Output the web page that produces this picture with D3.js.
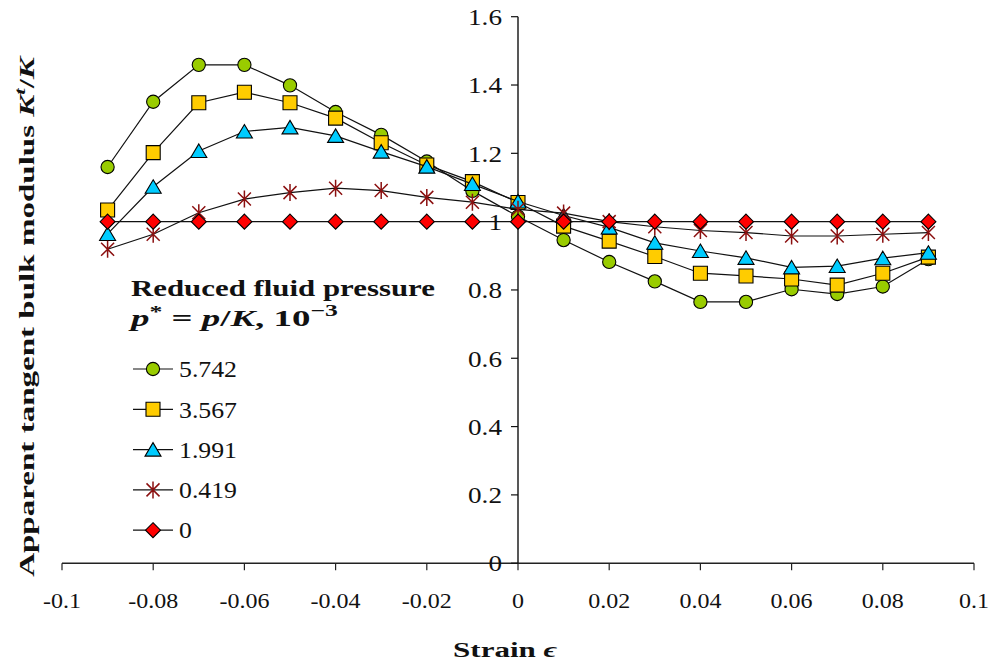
<!DOCTYPE html>
<html><head><meta charset="utf-8">
<script src="https://cdn.jsdelivr.net/npm/d3@7"></script>
<style>
html,body{margin:0;padding:0;background:#fff;}
svg text{font-family:'Liberation Serif','DejaVu Serif',serif;fill:#111;}
</style></head>
<body>
<svg id="chart" width="993" height="668" font-family="'Liberation Serif','DejaVu Serif',serif"></svg>
<script>
const strain = [-0.09,-0.08,-0.07,-0.06,-0.05,-0.04,-0.03,-0.02,-0.01,0,0.01,0.02,0.03,0.04,0.05,0.06,0.07,0.08,0.09];
const p5742 = [1.160,1.351,1.459,1.459,1.399,1.321,1.254,1.176,1.090,1.015,0.946,0.882,0.825,0.765,0.765,0.802,0.788,0.810,0.890];
const p3567 = [1.034,1.202,1.348,1.379,1.348,1.303,1.231,1.166,1.117,1.056,0.987,0.943,0.898,0.849,0.841,0.832,0.814,0.849,0.896];
const p1991 = [0.964,1.102,1.207,1.264,1.276,1.251,1.205,1.161,1.110,1.059,1.018,0.983,0.938,0.914,0.894,0.866,0.870,0.893,0.909];
const p0419 = [0.919,0.963,1.026,1.066,1.085,1.098,1.091,1.071,1.057,1.036,1.025,1.000,0.985,0.974,0.968,0.958,0.958,0.963,0.968];
const p0    = [1,1,1,1,1,1,1,1,1,1,1,1,1,1,1,1,1,1,1];
const seriesNames = ["5.742","3.567","1.991","0.419","0"];
const xTicks = [-0.1,-0.08,-0.06,-0.04,-0.02,0,0.02,0.04,0.06,0.08,0.1];
const xTickLabels = ["-0.1","-0.08","-0.06","-0.04","-0.02","0","0.02","0.04","0.06","0.08","0.1"];
const yTicks = [0,0.2,0.4,0.6,0.8,1,1.2,1.4,1.6];
const yTickLabels = ["0","0.2","0.4","0.6","0.8","1","1.2","1.4","1.6"];

const series = [
  {name:seriesNames[0], values:p5742, shape:"circle", fill:"#99cc00"},
  {name:seriesNames[1], values:p3567, shape:"square", fill:"#ffcc00"},
  {name:seriesNames[2], values:p1991, shape:"triangle", fill:"#00ccff"},
  {name:seriesNames[3], values:p0419, shape:"star", fill:"#8b1010"},
  {name:seriesNames[4], values:p0, shape:"diamond", fill:"#ff0000"}
];

const FONT = "'Liberation Serif','DejaVu Serif',serif";
const svg = d3.select("#chart");
const x = d3.scaleLinear().domain([-0.1,0.1]).range([62,974]);
const y = d3.scaleLinear().domain([0,1.6]).range([563.2,16.7]);

function markerPath(shape){
  switch(shape){
    case "circle": return d3.symbol(d3.symbolCircle, Math.PI*6.6*6.6)();
    case "square": return "M-7,-7H7V7H-7Z";
    case "triangle": return "M0,-7L8,6.5L-8,6.5Z";
    case "diamond": return "M0,-7.5L7.5,0L0,7.5L-7.5,0Z";
    case "star": return "M-6.5,-6.5L6.5,6.5M-6.5,6.5L6.5,-6.5M0,-8.5V8.5";
  }
}
function drawMarker(g, shape, fill){
  const p = g.append("path").attr("d", markerPath(shape));
  if(shape==="star"){
    p.attr("fill","none").attr("stroke",fill).attr("stroke-width",1.5);
  } else {
    p.attr("fill",fill).attr("stroke","#000").attr("stroke-width",1.1);
  }
}
function txt(sel){ return sel.append("text").attr("font-family",FONT); }
function widthOf(sel){ return sel.node().getComputedTextLength(); }

// measure helpers for horizontal fitting of labels
const probe = txt(svg).attr("font-size",22).text("0.02");
const sxX = 42 / widthOf(probe);
probe.attr("font-size",23).text("0.4");
const sxY = 34 / widthOf(probe);
probe.attr("font-size",23).text("5.742");
const sxL = 58 / widthOf(probe);
probe.remove();

// X axis
const xAxisG = svg.append("g").attr("transform","translate(0,563.2)");
xAxisG.append("line").attr("x1",x(-0.1)).attr("x2",x(0.1)).attr("stroke","#222").attr("stroke-width",1.4);
xTicks.forEach((t,i)=>{
  xAxisG.append("line").attr("x1",x(t)).attr("x2",x(t)).attr("y1",0).attr("y2",7).attr("stroke","#222").attr("stroke-width",1.2);
  txt(xAxisG).attr("text-anchor","middle").attr("font-size",22)
    .attr("transform",`translate(${x(t)},45) scale(${sxX},1)`).text(xTickLabels[i]);
});

// Y axis
const yAxisG = svg.append("g").attr("transform",`translate(${x(0)},0)`);
yAxisG.append("line").attr("y1",y(1.6)).attr("y2",y(0)).attr("stroke","#111").attr("stroke-width",1.4);
yTicks.forEach((t,i)=>{
  yAxisG.append("line").attr("x1",-7).attr("x2",0).attr("y1",y(t)).attr("y2",y(t)).attr("stroke","#111").attr("stroke-width",1.2);
  txt(yAxisG).attr("dy","0.36em").attr("text-anchor","end").attr("font-size",23)
    .attr("transform",`translate(-16,${y(t)}) scale(${sxY},1)`).text(yTickLabels[i]);
});

// Series
const line = d3.line().x((d,i)=>x(strain[i])).y(d=>y(d));
series.forEach(s=>{
  const g = svg.append("g");
  g.append("path").attr("d",line(s.values)).attr("fill","none").attr("stroke","#111").attr("stroke-width",1.2);
  s.values.forEach((v,i)=>{
    const mg = g.append("g").attr("transform",`translate(${x(strain[i])},${y(v)})`);
    drawMarker(mg, s.shape, s.fill);
  });
});

// Legend
const leg = svg.append("g");
const lt1 = txt(leg).attr("font-size",23).attr("font-weight","bold").text("Reduced fluid pressure");
let sx = 304 / widthOf(lt1);
lt1.attr("transform",`translate(131,296) scale(${sx},1)`);
const lt2 = txt(leg).attr("font-size",23).attr("font-weight","bold");
lt2.append("tspan").attr("font-style","italic").text("p");
lt2.append("tspan").attr("dy","-9").attr("font-size",16).text("*");
lt2.append("tspan").attr("dy","9").text(" = ");
lt2.append("tspan").attr("font-style","italic").text("p");
lt2.append("tspan").text("/");
lt2.append("tspan").attr("font-style","italic").text("K");
lt2.append("tspan").text(", 10");
lt2.append("tspan").attr("dy","-10").attr("font-size",16).text("\u22123");
sx = 207 / widthOf(lt2);
lt2.attr("transform",`translate(131,326) scale(${sx},1)`);

series.forEach((s,i)=>{
  const cy = 369 + i*40.3;
  const g = leg.append("g");
  g.append("line").attr("x1",133).attr("x2",173).attr("y1",cy).attr("y2",cy).attr("stroke","#111").attr("stroke-width",1.2);
  const mg = g.append("g").attr("transform",`translate(153,${cy})`);
  drawMarker(mg, s.shape, s.fill);
  txt(g).attr("dy","0.36em").attr("font-size",23)
    .attr("transform",`translate(179,${cy}) scale(${sxL},1)`).text(s.name);
});

// Y title
const yt = txt(svg).attr("text-anchor","middle").attr("font-size",22).attr("font-weight","bold");
yt.append("tspan").text("Apparent tangent bulk modulus ");
yt.append("tspan").attr("font-style","italic").text("K");
yt.append("tspan").attr("dy","-9").attr("font-size",15).attr("font-style","italic").text("t");
yt.append("tspan").attr("dy","9").text("/");
yt.append("tspan").attr("font-style","italic").text("K");
sx = 520 / widthOf(yt);
yt.attr("transform",`translate(34,317) rotate(-90) scale(${sx},1)`);

// X title
const xt = txt(svg).attr("text-anchor","middle").attr("font-size",22).attr("font-weight","bold");
xt.append("tspan").text("Strain ");
xt.append("tspan").attr("font-style","italic").text("\u03F5");
sx = 104 / widthOf(xt);
xt.attr("transform",`translate(505,657) scale(${sx},1)`);
</script>
</body></html>
